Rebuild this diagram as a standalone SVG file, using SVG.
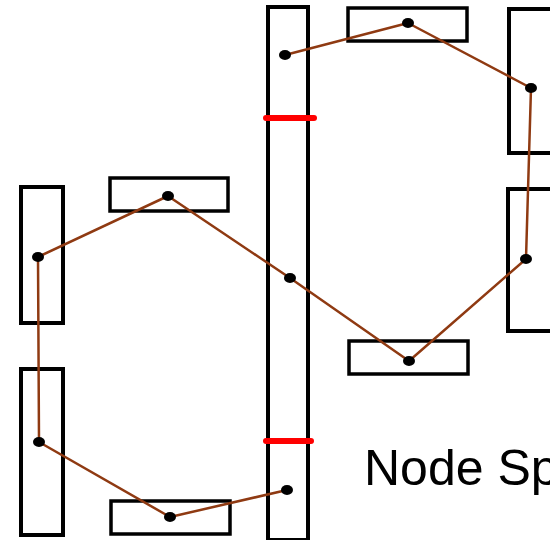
<svg xmlns="http://www.w3.org/2000/svg" width="550" height="540" viewBox="0 0 550 540">
<style>
.box{fill:#fff;stroke:#000;stroke-width:4}
.hb{fill:#fff;stroke:#000;stroke-width:3.5}
.dot{fill:#000}
.cut{stroke:#ff0000;stroke-width:6;stroke-linecap:round}
.wire{fill:none;stroke:#8f3a12;stroke-width:2.5;stroke-linejoin:round}
</style>
<rect width="550" height="540" fill="#fff"/>
<g id="n-left-top"><rect class="box" x="21" y="187" width="42" height="136"/></g>
<g id="n-left-bottom"><rect class="box" x="21" y="369" width="42" height="166"/></g>
<g id="n-top-h1"><rect class="hb" x="110" y="178" width="118" height="33"/></g>
<g id="n-bottom-h1"><rect class="hb" x="111" y="501" width="119" height="33"/></g>
<g id="n-center"><rect class="box" x="268" y="7" width="40" height="533"/></g>
<g id="n-top-h2"><rect class="hb" x="348" y="8" width="119" height="33"/></g>
<g id="n-mid-h2"><rect class="hb" x="349" y="341" width="119" height="33"/></g>
<g id="n-right-top"><rect class="box" x="509" y="9" width="60" height="144"/></g>
<g id="n-right-mid"><rect class="box" x="508" y="189" width="60" height="142"/></g>
<g id="cuts">
<line class="cut" x1="266" y1="118" x2="314" y2="118"/>
<line class="cut" x1="266" y1="441" x2="311" y2="441"/>
</g>
<g id="connectors">
<polyline class="wire" points="287,490 170,517 39,442 38,257 168,196 290,278 409,361 526,259 531,88 408,23 285,55"/>
</g>
<g id="dots">
<ellipse class="dot" cx="38" cy="257" rx="6" ry="5"/>
<ellipse class="dot" cx="168" cy="196" rx="6" ry="5"/>
<ellipse class="dot" cx="290" cy="278" rx="6" ry="5"/>
<ellipse class="dot" cx="39" cy="442" rx="6" ry="5"/>
<ellipse class="dot" cx="170" cy="517" rx="6" ry="5"/>
<ellipse class="dot" cx="287" cy="490" rx="6" ry="5"/>
<ellipse class="dot" cx="285" cy="55" rx="6" ry="5"/>
<ellipse class="dot" cx="408" cy="23" rx="6" ry="5"/>
<ellipse class="dot" cx="531" cy="88" rx="6" ry="5"/>
<ellipse class="dot" cx="526" cy="259" rx="6" ry="5"/>
<ellipse class="dot" cx="409" cy="361" rx="6" ry="5"/>
</g>
<text x="364" y="485" font-family="Liberation Sans, Arial, sans-serif" font-size="50" fill="#000">Node Sp</text>
</svg>
